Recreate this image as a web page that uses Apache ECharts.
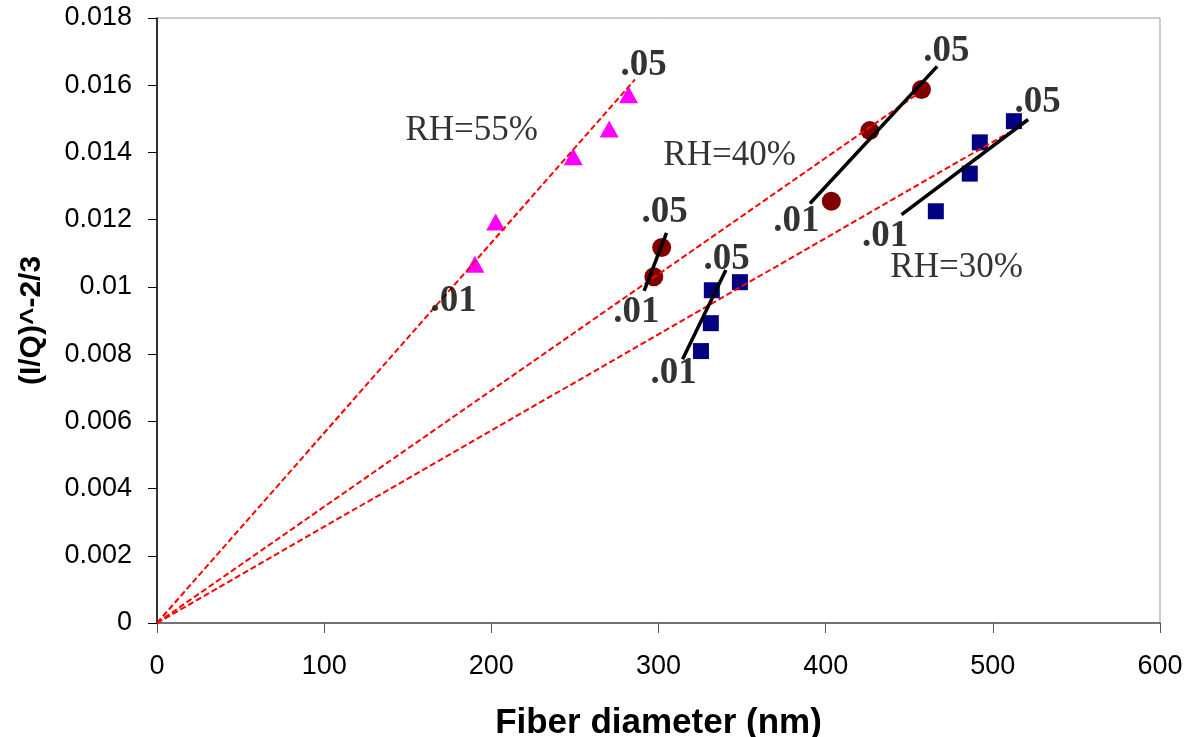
<!DOCTYPE html>
<html>
<head>
<meta charset="utf-8">
<script src="https://cdn.jsdelivr.net/npm/echarts@6/dist/echarts.min.js"></script>
<style>
    html, body { margin: 0; padding: 0; background: #fff; }
    #chart { width: 1185px; height: 737px; }
</style>
</head>
<body>
<div id="chart"></div>
<script>
// measured points [diameter nm, (I/Q)^-2/3]
const rh55 = [[190.2, 0.01067], [202.6, 0.01193], [249.0, 0.01387], [270.5, 0.0147], [282.1, 0.01572]]
const rh40 = [[297.2, 0.0103], [301.9, 0.01117], [403.4, 0.01255], [426.4, 0.01465], [457.3, 0.01587]]
const rh30 = [[325.4, 0.00809], [331.3, 0.00892], [331.9, 0.0099], [348.7, 0.01014],
    [465.9, 0.01225], [486.2, 0.01337], [492.2, 0.0143], [512.6, 0.01493]]

// dashed fits through the origin
const fit55 = [[0, 0], [285.9, 0.01617]]
const fit40 = [[0, 0], [454.4, 0.01572]]
const fit30 = [[0, 0], [509.2, 0.01458]]

// solid black segments (.01 -> .05)
const seg40a = [[291.4, 0.00988], [304.8, 0.01161]]
const seg30a = [[314.4, 0.00785], [340.3, 0.0105]]
const seg40b = [[390.6, 0.01248], [466.7, 0.01656]]
const seg30b = [[445.4, 0.01215], [521.1, 0.01498]]

// text notes
const rhNotes = [[148.3, 0.01465, 'RH=55%'], [302.6, 0.01391, 'RH=40%'], [438.4, 0.01057, 'RH=30%']]
const flowNotes = [
    [163.3, 0.00957, '.01'], [276.9, 0.01658, '.05'],
    [272.7, 0.00924, '.01'], [289.5, 0.01221, '.05'],
    [294.9, 0.00743, '.01'], [326.6, 0.01082, '.05'],
    [368.4, 0.01195, '.01'], [458.1, 0.01701, '.05'],
    [421.5, 0.01151, '.01'], [512.6, 0.01548, '.05']
]

const xTicks = [0, 100, 200, 300, 400, 500, 600]

const chart = echarts.init(document.getElementById('chart'))

function dashed(data) {
    return {
        type: 'line', data: data, symbol: 'none', z: 4, silent: true,
        lineStyle: { color: '#ff0000', width: 2, type: [6, 3] }
    }
}
function solid(data) {
    return {
        type: 'line', data: data, symbol: 'none', z: 5, silent: true,
        lineStyle: { color: '#000', width: 3.5 }
    }
}
function notes(data, font) {
    return {
        type: 'scatter', data: data, symbolSize: 1, z: 6, silent: true,
        itemStyle: { color: 'rgba(0,0,0,0)' },
        label: {
            show: true, position: 'right', distance: 0,
            formatter: p => p.data[2],
            color: '#000', fontFamily: 'Liberation Serif, Times New Roman, serif',
            fontSize: font.size, fontWeight: font.weight
        }
    }
}

const options = {
    animation: false,
    backgroundColor: '#fff',
    grid: {
        left: 157, right: 25, top: 18, bottom: 114, outerBoundsMode: 'none',
        show: true, borderColor: '#999', borderWidth: 1
    },
    xAxis: {
        type: 'value', min: xTicks[0], max: xTicks[xTicks.length - 1], interval: 100,
        name: 'Fiber diameter (nm)', nameLocation: 'middle', nameGap: 83,
        nameTextStyle: { fontFamily: 'Liberation Sans, Arial', fontWeight: 'bold', fontSize: 35, color: '#000' },
        axisLine: { lineStyle: { color: '#555', width: 1.5 } },
        axisTick: { inside: false, length: 10, lineStyle: { color: '#555' } },
        axisLabel: { margin: 30, fontFamily: 'Liberation Sans, Arial', fontSize: 27, color: '#000' },
        splitLine: { show: false }
    },
    yAxis: {
        type: 'value', min: 0, max: 0.018, interval: 0.002,
        name: '(I/Q)^-2/3', nameLocation: 'middle', nameGap: 110, nameRotate: 90,
        nameTextStyle: { fontFamily: 'Liberation Sans, Arial', fontWeight: 'bold', fontSize: 30, color: '#000' },
        axisLine: { show: true, lineStyle: { color: '#000', width: 1.5 } },
        axisTick: { show: true, inside: false, length: 9, lineStyle: { color: '#000' } },
        axisLabel: { margin: 25, fontFamily: 'Liberation Sans, Arial', fontSize: 27, color: '#000' },
        splitLine: { show: false }
    },
    series: [
        dashed(fit55), dashed(fit40), dashed(fit30),
        {
            name: 'RH=55%', type: 'scatter', data: rh55, symbol: 'triangle', symbolSize: [19, 17], z: 3,
            itemStyle: { color: '#ff00ff', opacity: 1 }
        },
        {
            name: 'RH=40%', type: 'scatter', data: rh40, symbol: 'circle', symbolSize: 19, z: 3,
            itemStyle: { color: '#800000', opacity: 1 }
        },
        {
            name: 'RH=30%', type: 'scatter', data: rh30, symbol: 'rect', symbolSize: 16, z: 3,
            itemStyle: { color: '#000080', opacity: 1 }
        },
        solid(seg40a), solid(seg30a), solid(seg40b), solid(seg30b),
        notes(rhNotes, { size: 35, weight: 'normal' }),
        notes(flowNotes, { size: 37, weight: 'bold' })
    ]
}
chart.setOption(options)
</script>
</body>
</html>
